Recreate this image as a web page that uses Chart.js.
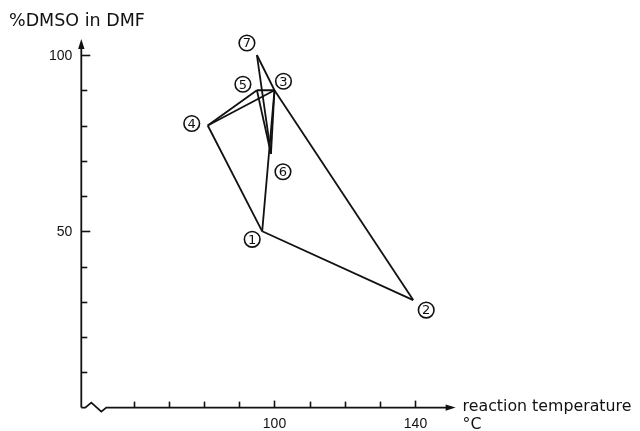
<!DOCTYPE html>
<html>
<head>
<meta charset="utf-8">
<script src="https://cdn.jsdelivr.net/npm/chart.js@4/dist/chart.umd.min.js"></script>
<style>
  html, body { margin: 0; padding: 0; background: #fff; }
  #wrap { width: 640px; height: 431px; }
</style>
</head>
<body>
<div id="wrap"><canvas id="simplex" width="640" height="431"></canvas></div>
<script>
// Simplex runs: reaction temperature (°C) against %DMSO in DMF
const runLabels = ['1', '2', '3', '4', '5', '6', '7'];
const temperatureC = [96.5, 139.5, 100, 81, 95, 99, 95];
const dmsoPercent = [50, 30.5, 90, 80, 90, 72, 100];

// Triangle edges joining the runs (by run number)
const simplexEdges = [[1, 2], [2, 3], [3, 1], [1, 4], [4, 3], [4, 5], [5, 3], [5, 6], [6, 3], [6, 7], [7, 3]];

// Axis ticks and their printed labels
const xTickValues = [60, 70, 80, 90, 100, 110, 120, 130, 140];
const xTickLabels = ['', '', '', '', '100', '', '', '', '140'];
const yTickValues = [10, 20, 30, 40, 50, 60, 70, 80, 90, 100];
const yTickLabels = ['', '', '', '', '50', '', '', '', '', '100'];

const yTitle = '%DMSO in DMF';
const xTitle = 'reaction temperature';
const xUnit = '°C';

const TICK_FONT = '"Liberation Sans", Arial, sans-serif';
const TEXT_FONT = '"DejaVu Sans", sans-serif';
const INK = '#111';

// Circled run numbers, offset from their vertex (px)
const labelOffsets = [[-10, 8], [13, 10], [9, -9], [-16, -2], [-14, -6], [12, 18], [-10, -12]];

const edgeDatasets = simplexEdges.map(([a, b]) => ({
  type: 'scatter',
  data: [
    { x: temperatureC[a - 1], y: dmsoPercent[a - 1] },
    { x: temperatureC[b - 1], y: dmsoPercent[b - 1] }
  ],
  showLine: true,
  borderColor: INK,
  borderWidth: 1.8,
  pointRadius: 0,
  pointHoverRadius: 0,
  fill: false
}));

const runPoints = {
  type: 'scatter',
  data: temperatureC.map((t, i) => ({ x: t, y: dmsoPercent[i] })),
  pointRadius: 0,
  showLine: false
};

const axesAndLabels = {
  id: 'axesAndLabels',
  afterDatasetsDraw(chart) {
    const ctx = chart.ctx;
    const xs = chart.scales.x, ys = chart.scales.y;
    const x0 = xs.getPixelForValue(xs.min);
    const y0 = ys.getPixelForValue(ys.min);
    const yTop = ys.getPixelForValue(ys.max);
    const xEnd = xs.getPixelForValue(xs.max);

    ctx.save();
    ctx.strokeStyle = INK;
    ctx.fillStyle = INK;
    ctx.lineWidth = 1.8;
    ctx.lineCap = 'butt';

    // vertical axis with arrow
    ctx.beginPath();
    ctx.moveTo(x0, y0);
    ctx.lineTo(x0, yTop + 4);
    ctx.stroke();
    ctx.beginPath();
    ctx.moveTo(x0, yTop - 2);
    ctx.lineTo(x0 - 3.2, yTop + 8);
    ctx.lineTo(x0 + 3.2, yTop + 8);
    ctx.closePath();
    ctx.fill();

    // horizontal axis with break mark and arrow
    ctx.beginPath();
    ctx.moveTo(x0, y0);
    ctx.lineTo(x0 + 4, y0);
    ctx.lineTo(x0 + 10, y0 - 5);
    ctx.lineTo(x0 + 20, y0 + 4);
    ctx.lineTo(x0 + 25, y0);
    ctx.lineTo(xEnd - 4, y0);
    ctx.stroke();
    ctx.beginPath();
    ctx.moveTo(xEnd + 2, y0);
    ctx.lineTo(xEnd - 8, y0 - 3.2);
    ctx.lineTo(xEnd - 8, y0 + 3.2);
    ctx.closePath();
    ctx.fill();

    // ticks
    ctx.lineWidth = 1.6;
    ctx.font = '14px ' + TICK_FONT;
    yTickValues.forEach((v, i) => {
      const py = Math.round(ys.getPixelForValue(v)) + 0.5;
      const len = yTickLabels[i] ? 9 : 6;
      ctx.beginPath();
      ctx.moveTo(x0, py);
      ctx.lineTo(x0 + len, py);
      ctx.stroke();
      if (yTickLabels[i]) {
        ctx.textAlign = 'right';
        ctx.textBaseline = 'middle';
        ctx.fillText(yTickLabels[i], x0 - 9, py + 1);
      }
    });
    xTickValues.forEach((v, i) => {
      const px = Math.round(xs.getPixelForValue(v)) + 0.5;
      const len = xTickLabels[i] ? 7 : 6;
      ctx.beginPath();
      ctx.moveTo(px, y0);
      ctx.lineTo(px, y0 - len);
      ctx.stroke();
      if (xTickLabels[i]) {
        ctx.textAlign = 'center';
        ctx.textBaseline = 'top';
        ctx.fillText(xTickLabels[i], px, y0 + 10);
      }
    });

    // axis titles
    ctx.textAlign = 'left';
    ctx.textBaseline = 'alphabetic';
    ctx.font = '17.5px ' + TEXT_FONT;
    ctx.fillText(yTitle, 9, 26);
    ctx.font = '15.8px ' + TEXT_FONT;
    ctx.fillText(xTitle, xEnd + 9, y0 + 3);
    ctx.fillText(xUnit, xEnd + 9, y0 + 21);

    // circled run numbers
    ctx.lineWidth = 1.6;
    ctx.font = '13px ' + TEXT_FONT;
    ctx.textAlign = 'center';
    ctx.textBaseline = 'middle';
    runLabels.forEach((lab, i) => {
      const cx = xs.getPixelForValue(temperatureC[i]) + labelOffsets[i][0];
      const cy = ys.getPixelForValue(dmsoPercent[i]) + labelOffsets[i][1];
      ctx.fillStyle = '#fff';
      ctx.beginPath();
      ctx.arc(cx, cy, 7.8, 0, Math.PI * 2);
      ctx.fill();
      ctx.stroke();
      ctx.fillStyle = INK;
      ctx.fillText(lab, cx, cy + 1);
    });
    ctx.restore();
  }
};

new Chart(document.getElementById('simplex'), {
  type: 'scatter',
  data: { datasets: [...edgeDatasets, runPoints] },
  options: {
    responsive: false,
    animation: false,
    devicePixelRatio: 1,
    layout: { padding: { left: 81.3, right: 186.4, top: 40.9, bottom: 23.4 } },
    plugins: { legend: { display: false }, tooltip: { enabled: false } },
    events: [],
    scales: {
      x: { type: 'linear', min: 45, max: 151, display: false },
      y: { type: 'linear', min: 0, max: 104, display: false }
    }
  },
  plugins: [axesAndLabels]
});
</script>
</body>
</html>
